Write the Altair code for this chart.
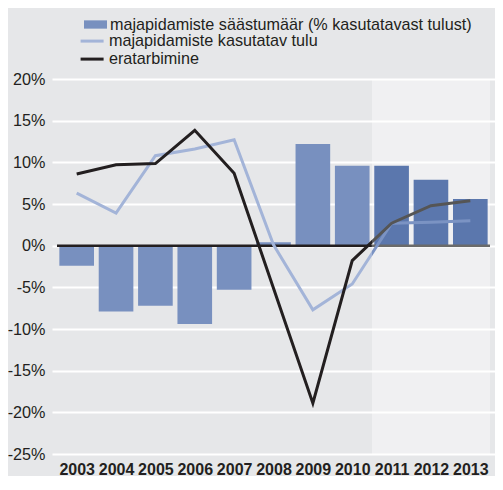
import altair as alt
import pandas as pd

# ---- data ----
years = [2003, 2004, 2005, 2006, 2007, 2008, 2009, 2010, 2011, 2012, 2013]
savings_rate = [-2.4, -7.9, -7.2, -9.4, -5.3, 0.4, 12.2, 9.6, 9.6, 7.9, 5.6]
disposable_income = [6.3, 3.9, 10.8, 11.6, 12.7, 0.1, -7.7, -4.6, 2.7, 2.8, 3.0]
consumption = [8.6, 9.7, 9.85, 13.85, 8.7, -5.1, -18.9, -1.8, 2.7, 4.8, 5.4]
forecast_start = 2011

series_names = [
    "majapidamiste säästumäär (% kasutatavast tulust)",
    "majapidamiste kasutatav tulu",
    "eratarbimine",
]
y_ticks = [-25, -20, -15, -10, -5, 0, 5, 10, 15, 20]

# ---- styling ----
FONT = "Liberation Sans"
TEXT = "#231f20"
BG = "#e6e7e9"
HIST_BAR, FC_BAR = "#7890bf", "#5b77ad"
HIST_INC, FC_INC = "#a3b4d8", "#7b93c3"
HIST_CON, FC_CON = "#231f20", "#555555"
HIST_ZERO, FC_ZERO = "#231f20", "#6b6b6b"
FS = 16.2

df = pd.DataFrame({
    "year": years,
    "savings": savings_rate,
    "income": disposable_income,
    "consumption": consumption,
})
df["x0"] = df["year"] - 0.44
df["x1"] = df["year"] + 0.44
df["forecast"] = df["year"] >= forecast_start

x_lo, x_hi = years[0] - 0.5, years[-1] + 0.5
split = forecast_start - 0.5
y_lo, y_hi = y_ticks[0], y_ticks[-1]

x_scale = alt.Scale(domain=[x_lo, x_hi], nice=False, zero=False)
y_scale = alt.Scale(domain=[y_lo, y_hi], nice=False, zero=False)

x_axis = alt.Axis(
    values=years, format="d", grid=False, domain=False, ticks=False,
    labelFont=FONT, labelFontSize=16, labelFontWeight="bold", labelColor=TEXT,
    labelPadding=7, labelOverlap=False, title=None,
)
y_axis = alt.Axis(
    values=y_ticks, labelExpr="datum.value + '%'", grid=True, gridColor="white",
    gridWidth=2, domain=False, ticks=False, labelFont=FONT, labelFontSize=FS,
    labelColor=TEXT, labelPadding=7, title=None,
)

base = alt.Chart(df)

# forecast shading
shade_df = pd.DataFrame({"a": [split], "b": [x_hi], "lo": [y_lo], "hi": [y_hi]})
shade = alt.Chart(shade_df).mark_rect(color="white", opacity=0.4).encode(
    x=alt.X("a:Q", scale=x_scale, axis=x_axis),
    x2="b:Q",
    y=alt.Y("lo:Q", scale=y_scale, axis=y_axis),
    y2="hi:Q",
)

bars = base.mark_bar().encode(
    x=alt.X("x0:Q", scale=x_scale, axis=x_axis),
    x2="x1:Q",
    y=alt.Y("savings:Q", scale=y_scale, axis=y_axis),
    y2=alt.datum(0),
    color=alt.condition("datum.forecast", alt.value(FC_BAR), alt.value(HIST_BAR)),
)

zero_df = pd.DataFrame({
    "a": [x_lo, split], "b": [split, x_hi], "v": [0, 0], "c": [HIST_ZERO, FC_ZERO]
})
zero = alt.Chart(zero_df).mark_rule(strokeWidth=2.5).encode(
    x=alt.X("a:Q", scale=x_scale, axis=x_axis),
    x2="b:Q",
    y=alt.Y("v:Q", scale=y_scale, axis=y_axis),
    color=alt.Color("c:N", scale=None, legend=None),
)

frac = (split - years[0]) / (years[-1] - years[0])


def grad(c1, c2):
    return alt.LinearGradient(
        gradient="linear", x1=0, x2=1, y1=0, y2=0,
        stops=[
            alt.GradientStop(color=c1, offset=0),
            alt.GradientStop(color=c1, offset=frac),
            alt.GradientStop(color=c2, offset=frac),
            alt.GradientStop(color=c2, offset=1),
        ],
    )


inc_line = base.mark_line(stroke=grad(HIST_INC, FC_INC), strokeWidth=3).encode(
    x=alt.X("year:Q", scale=x_scale, axis=x_axis),
    y=alt.Y("income:Q", scale=y_scale, axis=y_axis),
)
con_line = base.mark_line(stroke=grad(HIST_CON, FC_CON), strokeWidth=3).encode(
    x=alt.X("year:Q", scale=x_scale, axis=x_axis),
    y=alt.Y("consumption:Q", scale=y_scale, axis=y_axis),
)

legend_common = dict(
    orient="none", title=None, labelFont=FONT, labelFontSize=FS,
    labelColor=TEXT, labelLimit=600, padding=0,
)

bar_legend = base.transform_filter("false").mark_bar().encode(
    x=alt.X("year:Q", scale=x_scale, axis=x_axis),
    y=alt.Y("savings:Q", scale=y_scale, axis=y_axis),
    fill=alt.Fill(
        "series:N",
        scale=alt.Scale(domain=series_names[:1], range=[HIST_BAR]),
        legend=alt.Legend(
            legendX=32, legendY=-66, symbolType="M-1,-0.36H1V0.36H-1Z",
            symbolSize=529, labelOffset=3, symbolStrokeWidth=0, **legend_common,
        ),
    ),
)
line_legend = base.transform_filter("false").mark_line().encode(
    x=alt.X("year:Q", scale=x_scale, axis=x_axis),
    y=alt.Y("consumption:Q", scale=y_scale, axis=y_axis),
    stroke=alt.Stroke(
        "series:N",
        scale=alt.Scale(domain=series_names[1:], range=[HIST_INC, HIST_CON]),
        legend=alt.Legend(
            legendX=32, legendY=-46, symbolType="M-2,0H2", symbolSize=132.25,
            labelOffset=8.75, symbolStrokeWidth=3, rowPadding=1, **legend_common,
        ),
    ),
)

chart = (
    alt.layer(shade, bars, zero, inc_line, con_line, bar_legend, line_legend)
    .properties(
        width=443, height=375,
        autosize=alt.AutoSizeParams(type="none"),
        padding={"left": 44, "top": 71, "right": 0, "bottom": 22},
        background=BG,
    )
    .configure_view(stroke=None)
)

chart.save("out.html", embed_options={"renderer": "svg", "actions": False})
